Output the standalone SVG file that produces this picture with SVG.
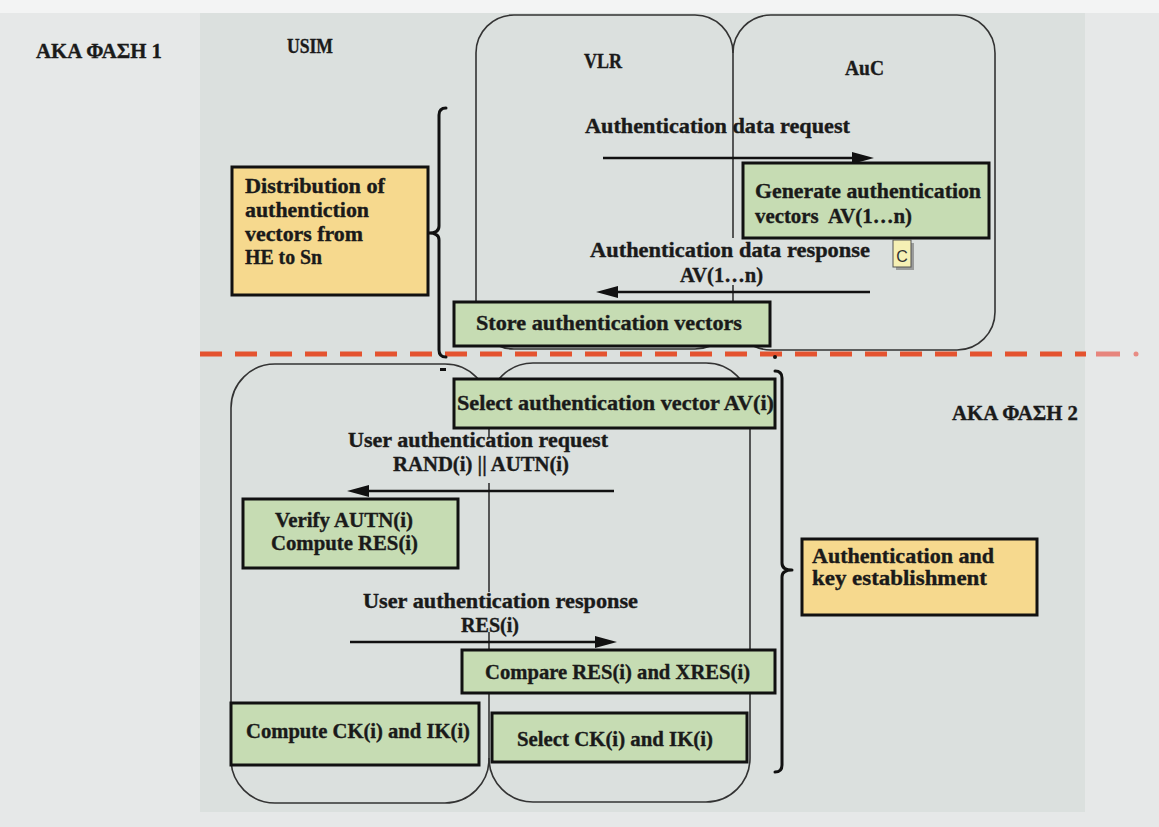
<svg xmlns="http://www.w3.org/2000/svg" width="1159" height="827" viewBox="0 0 1159 827">
  <style>
    .lbl { font-family: "Liberation Serif", "DejaVu Serif", serif; font-weight: bold; font-size: 20px; fill: #1a1a1a; stroke: #1a1a1a; stroke-width: 0.35; }
    .hdr { font-size: 21px; }
    .lane { fill: none; stroke: #333; stroke-width: 1.6; }
    .act { fill: #c6dcb3; stroke: #111; stroke-width: 3; }
    .note { fill: #f6d98e; stroke: #111; stroke-width: 3; }
    .brace { fill: none; stroke: #111; stroke-width: 3; stroke-linecap: round; stroke-linejoin: round; }
    .msg { fill: none; stroke: #111; stroke-width: 2.5; }
  </style>
  <defs>
    <marker id="head" markerUnits="userSpaceOnUse" markerWidth="22" markerHeight="14" refX="10" refY="7" orient="auto">
      <path d="M0,1 L22,7 L0,13 Z" fill="#111"/>
    </marker>
  </defs>

  <!-- page background -->
  <rect x="0" y="0" width="1159" height="827" fill="#e6e8e8"/>
  <rect x="0" y="0" width="1159" height="13" fill="#f3f4f4"/>
  <rect x="200" y="13" width="885" height="799" fill="#dbe0de"/>

  <!-- phase captions -->
  <g id="phase1-title">
    <text class="lbl hdr" x="36" y="58" textLength="126" lengthAdjust="spacingAndGlyphs">ΑΚΑ ΦΑΣΗ 1</text>
  </g>
  <g id="phase2-title">
    <text class="lbl hdr" x="952" y="420" textLength="126" lengthAdjust="spacingAndGlyphs">ΑΚΑ ΦΑΣΗ 2</text>
  </g>
  <g id="usim-title">
    <text class="lbl" x="287" y="53" textLength="46" lengthAdjust="spacingAndGlyphs">USIM</text>
  </g>

  <!-- phase 1 lanes -->
  <g id="vlr-lane-1">
    <path class="lane" d="M733,53 A38,38 0 0 0 695,15 L514,15 A38,38 0 0 0 476,53 L476,311 A38,38 0 0 0 514,349 L695,349 A38,38 0 0 0 733,311"/>
    <text class="lbl" x="584" y="68" textLength="38" lengthAdjust="spacingAndGlyphs">VLR</text>
  </g>
  <g id="auc-lane">
    <path class="lane" d="M733,53 A38,38 0 0 1 771,15 L957,15 A38,38 0 0 1 995,53 L995,312 A38,38 0 0 1 957,350 L771,350 A38,38 0 0 1 733,312"/>
    <text class="lbl" x="845" y="75" textLength="39" lengthAdjust="spacingAndGlyphs">AuC</text>
  </g>
  <g id="lane-divider-1">
    <line class="lane" x1="733" y1="53" x2="733" y2="238"/>
    <line class="lane" x1="733" y1="285" x2="733" y2="311"/>
  </g>

  <!-- phase 2 lanes -->
  <g id="usim-lane">
    <path class="lane" d="M489,408 A44,44 0 0 0 445,364 L275,364 A44,44 0 0 0 231,408 L231,759 A44,44 0 0 0 275,803 L445,803 A44,44 0 0 0 489,759"/>
  </g>
  <g id="vlr-lane-2">
    <path class="lane" d="M489,407 A44,44 0 0 1 533,363 L706,363 A44,44 0 0 1 750,407 L750,758 A44,44 0 0 1 706,802 L533,802 A44,44 0 0 1 489,758"/>
  </g>
  <g id="lane-divider-2">
    <line class="lane" x1="489" y1="407" x2="489" y2="437"/>
    <line class="lane" x1="489" y1="483" x2="489" y2="592"/>
    <line class="lane" x1="489" y1="632" x2="489" y2="759"/>
  </g>

  <!-- phase separator -->
  <g id="phase-separator">
    <line x1="200" y1="354" x2="1086" y2="354" stroke="#e4532f" stroke-width="5" stroke-dasharray="22 13"/>
    <line x1="1096" y1="354" x2="1120" y2="354" stroke="#e8655a" stroke-width="5" opacity="0.75"/>
    <circle cx="1136" cy="354" r="2.5" fill="#e8655a" opacity="0.7"/>
  </g>

  <!-- phase 1 steps -->
  <g id="generate-av">
    <rect class="act" x="743" y="163" width="246" height="75"/>
    <text class="lbl" x="755" y="198" textLength="226" lengthAdjust="spacingAndGlyphs">Generate authentication</text>
    <text class="lbl" x="755" y="223" textLength="157" lengthAdjust="spacingAndGlyphs" xml:space="preserve">vectors  AV(1…n)</text>
  </g>
  <g id="comment-marker">
    <rect x="896" y="243" width="18" height="27" fill="#6e6e6e" opacity="0.6"/>
    <rect x="893" y="240" width="18" height="27" fill="#f6f0b4" stroke="#555" stroke-width="1"/>
    <text x="902" y="262" text-anchor="middle" font-family="Liberation Sans, Arial, sans-serif" font-size="16" fill="#333">C</text>
  </g>
  <g id="store-av">
    <rect class="act" x="454" y="302" width="316" height="44"/>
    <text class="lbl" x="476" y="330" textLength="266" lengthAdjust="spacingAndGlyphs">Store authentication vectors</text>
  </g>
  <g id="phase1-note">
    <rect class="note" x="232" y="167" width="196" height="128"/>
    <text class="lbl" x="245" y="193" textLength="140" lengthAdjust="spacingAndGlyphs">Distribution of</text>
    <text class="lbl" x="245" y="217" textLength="124" lengthAdjust="spacingAndGlyphs">authentiction</text>
    <text class="lbl" x="245" y="241" textLength="118" lengthAdjust="spacingAndGlyphs">vectors from</text>
    <text class="lbl" x="245" y="264" textLength="77" lengthAdjust="spacingAndGlyphs">HE to Sn</text>
  </g>

  <!-- phase 2 steps -->
  <g id="select-av">
    <rect class="act" x="454" y="379" width="321" height="49"/>
    <text class="lbl" x="457" y="410" textLength="317" lengthAdjust="spacingAndGlyphs">Select authentication vector AV(i)</text>
  </g>
  <g id="verify-autn">
    <rect class="act" x="243" y="499" width="215" height="69"/>
    <text class="lbl" x="275" y="527" textLength="138" lengthAdjust="spacingAndGlyphs">Verify AUTN(i)</text>
    <text class="lbl" x="271" y="550" textLength="147" lengthAdjust="spacingAndGlyphs">Compute RES(i)</text>
  </g>
  <g id="compare-res">
    <rect class="act" x="462" y="650" width="313" height="43"/>
    <text class="lbl" x="485" y="679" textLength="265" lengthAdjust="spacingAndGlyphs">Compare RES(i) and XRES(i)</text>
  </g>
  <g id="compute-keys">
    <rect class="act" x="231" y="703" width="248" height="62"/>
    <text class="lbl" x="246" y="738" textLength="224" lengthAdjust="spacingAndGlyphs">Compute CK(i) and IK(i)</text>
  </g>
  <g id="select-keys">
    <rect class="act" x="492" y="713" width="255" height="49"/>
    <text class="lbl" x="517" y="746" textLength="196" lengthAdjust="spacingAndGlyphs">Select CK(i) and IK(i)</text>
  </g>
  <g id="phase2-note">
    <rect class="note" x="802" y="539" width="235" height="76"/>
    <text class="lbl" x="812" y="563" textLength="182" lengthAdjust="spacingAndGlyphs">Authentication and</text>
    <text class="lbl" x="812" y="585" textLength="175" lengthAdjust="spacingAndGlyphs">key establishment</text>
  </g>

  <!-- braces grouping each phase -->
  <g id="braces">
    <path class="brace" d="M446,108 Q439,108 439,115 L439,226 Q439,233 429,233 Q439,233 439,240 L439,350 Q439,357 446,357"/>
    <path class="brace" d="M775,371 Q782,371 782,378 L782,563 Q782,570 792,570 Q782,570 782,577 L782,765 Q782,772 775,772"/>
    <rect x="440" y="368" width="6" height="3" fill="#111"/>
    <circle cx="775" cy="357" r="2" fill="#111"/>
  </g>

  <!-- messages -->
  <g id="connectors">
    <line class="msg" x1="603" y1="158" x2="862" y2="158" marker-end="url(#head)"/>
    <line class="msg" x1="870" y1="292" x2="608" y2="292" marker-end="url(#head)"/>
    <line class="msg" x1="614" y1="491" x2="359" y2="491" marker-end="url(#head)"/>
    <line class="msg" x1="350" y1="642" x2="605" y2="642" marker-end="url(#head)"/>
  </g>

  <!-- message labels -->
  <g id="message-labels">
    <text class="lbl" x="585" y="133" textLength="265" lengthAdjust="spacingAndGlyphs">Authentication data request</text>
    <text class="lbl" x="590" y="257" textLength="280" lengthAdjust="spacingAndGlyphs">Authentication data response</text>
    <text class="lbl" x="680" y="282" textLength="83" lengthAdjust="spacingAndGlyphs">AV(1…n)</text>
    <text class="lbl" x="348" y="447" textLength="260" lengthAdjust="spacingAndGlyphs">User authentication request</text>
    <text class="lbl" x="393" y="471" textLength="176" lengthAdjust="spacingAndGlyphs">RAND(i) || AUTN(i)</text>
    <text class="lbl" x="363" y="608" textLength="275" lengthAdjust="spacingAndGlyphs">User authentication response</text>
    <text class="lbl" x="461" y="632" textLength="58" lengthAdjust="spacingAndGlyphs">RES(i)</text>
  </g>
</svg>
